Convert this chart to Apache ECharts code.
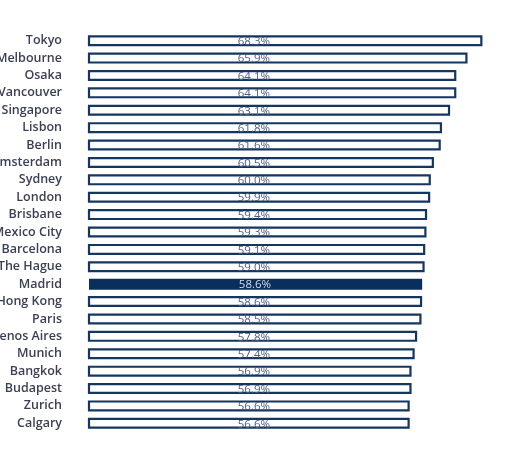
<!DOCTYPE html>
<html>
<head>
<meta charset="utf-8">
<script src="https://cdn.jsdelivr.net/npm/echarts@6/dist/echarts.min.js"></script>
<style>
html,body{margin:0;padding:0;background:#fff;}
#chart{width:511px;height:450px;}
</style>
</head>
<body>
<div id="chart"></div>
<script>
var cities = ["Tokyo","Melbourne","Osaka","Vancouver","Singapore","Lisbon","Berlin","Amsterdam","Sydney","London","Brisbane","Mexico City","Barcelona","The Hague","Madrid","Hong Kong","Paris","Buenos Aires","Munich","Bangkok","Budapest","Zurich","Calgary"];
var values = [68.3,65.9,64.1,64.1,63.1,61.8,61.6,60.5,60.0,59.9,59.4,59.3,59.1,59.0,58.6,58.6,58.5,57.8,57.4,56.9,56.9,56.6,56.6];
var highlight = "Madrid";

var navy = '#15365f';
var data = values.map(function(v, i){
  if (cities[i] === highlight) {
    return {value: v, itemStyle: {color: '#0a2f5c', borderColor: '#0a2f5c', borderWidth: 0}, label: {color: '#d5dbe8'}};
  }
  return {value: v};
});

var chart = echarts.init(document.getElementById('chart'));
chart.setOption({
  animation: false,
  grid: {left: 89, right: 18, top: 32, bottom: 18, containLabel: false, outerBoundsMode: 'none'},
  xAxis: {type: 'value', min: 5, max: 70, show: false},
  yAxis: {
    type: 'category', data: cities, inverse: true,
    axisLine: {show: false}, axisTick: {show: false},
    axisLabel: {margin: 27, fontSize: 12.5, fontWeight: 600, color: '#3a3f55', fontFamily: 'Open Sans'}
  },
  series: [{
    type: 'bar', data: data, barWidth: 11,
    itemStyle: {color: '#ffffff', borderColor: navy, borderWidth: 2.2},
    label: {
      show: true, position: [166, 6.5], align: 'center', verticalAlign: 'middle',
      formatter: function(p){ return p.value.toFixed(1) + '%'; },
      fontSize: 11.5, color: '#4e5d86', fontFamily: 'Open Sans'
    }
  }]
});
</script>
</body>
</html>
